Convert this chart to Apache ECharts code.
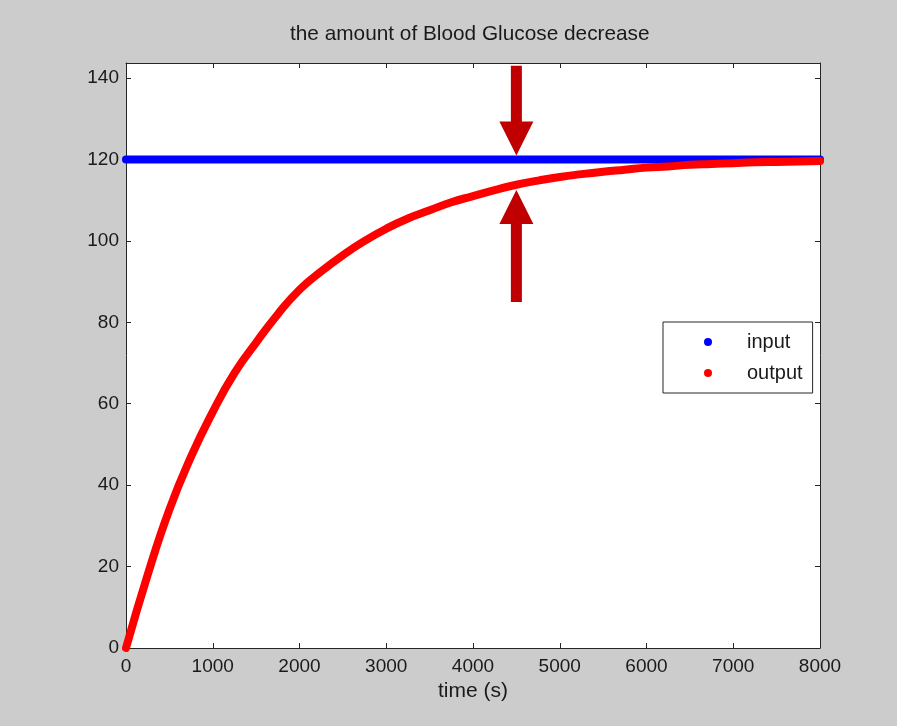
<!DOCTYPE html>
<html>
<head>
<meta charset="utf-8">
<script src="https://cdn.jsdelivr.net/npm/echarts@6/dist/echarts.min.js"></script>
<style>
  html, body { margin: 0; padding: 0; background: #cccccc; }
  #chart { width: 897px; height: 726px; }
</style>
</head>
<body>
<div id="chart"></div>
<script>
// time axis (s) and readings taken off the curve
var times = [0, 250, 500, 750, 1000, 1250, 1500, 1750, 2000, 2250, 2500, 2750, 3000,
             3250, 3500, 3750, 4000, 4250, 4500, 4750, 5000, 5250, 5500, 5750, 6000,
             6250, 6500, 6750, 7000, 7250, 7500, 7750, 8000];
var outputValues = [0, 18, 34, 47, 58, 67.5, 75, 82, 88, 92.5, 96.5, 100, 103,
                    105.5, 107.5, 109.5, 111, 112.5, 113.8, 114.8, 115.7, 116.4, 117, 117.5, 118,
                    118.3, 118.7, 118.9, 119.1, 119.3, 119.4, 119.5, 119.6];
var inputTimes = [0, 8000];
var inputValues = [120, 120];

var xTicks = [0, 1000, 2000, 3000, 4000, 5000, 6000, 7000, 8000];
var yTicks = [0, 20, 40, 60, 80, 100, 120, 140];

// arrows: x position, tail value, tip value
var arrowX = [4500, 4500];
var arrowTail = [143, 85];
var arrowTip = [121, 112.5];

var axisColor = '#262626';
var textColor = '#1a1a1a';
var font = 'Liberation Sans, Arial, sans-serif';

var chart = echarts.init(document.getElementById('chart'));

function renderArrow(params, api) {
    var tail = api.coord([api.value(0), api.value(1)]);
    var tip = api.coord([api.value(0), api.value(2)]);
    var dir = tip[1] > tail[1] ? 1 : -1;
    var headLen = 34, headHalf = 17, shaftHalf = 5.5;
    var x = tip[0];
    var base = tip[1] - dir * headLen;
    return {
        type: 'polygon',
        shape: {
            points: [
                [x - shaftHalf, tail[1]],
                [x + shaftHalf, tail[1]],
                [x + shaftHalf, base],
                [x + headHalf, base],
                [x, tip[1]],
                [x - headHalf, base],
                [x - shaftHalf, base]
            ]
        },
        style: { fill: '#c00000' }
    };
}

var arrowData = arrowX.map(function (x, i) { return [x, arrowTail[i], arrowTip[i]]; });

function axisBase(pos, ticks, showLabel) {
    return {
        type: 'value',
        position: pos,
        axisLine: { show: true, onZero: false, lineStyle: { color: axisColor } },
        axisTick: { show: true, inside: true, length: 5, customValues: ticks, lineStyle: { color: axisColor } },
        axisLabel: {
            show: showLabel,
            customValues: ticks,
            formatter: function (v) { return String(v); },
            fontFamily: font, fontSize: 19, color: textColor
        },
        splitLine: { show: false }
    };
}

var xBottom = axisBase('bottom', xTicks, true);
xBottom.min = 0; xBottom.max = 8000;
xBottom.axisLabel.margin = 9;
xBottom.name = 'time (s)';
xBottom.nameLocation = 'middle';
xBottom.nameGap = 31;
xBottom.nameTextStyle = { fontFamily: font, fontSize: 21, color: textColor };

var xTop = axisBase('top', xTicks, false);
xTop.min = 0; xTop.max = 8000;

var yLeft = axisBase('left', yTicks, true);
yLeft.min = 0; yLeft.max = 143.7;
yLeft.axisLabel.margin = 7;

var yRight = axisBase('right', yTicks, false);
yRight.min = 0; yRight.max = 143.7;

chart.setOption({
    backgroundColor: '#cccccc',
    animation: false,
    title: {
        text: 'the amount of Blood Glucose decrease',
        left: 290,
        top: 24,
        padding: 0,
        textStyle: { fontFamily: font, fontSize: 20.8, fontWeight: 'normal', color: textColor }
    },
    grid: { left: 126, right: 77, top: 63, bottom: 78, show: true, backgroundColor: '#ffffff', borderWidth: 0 },
    legend: {
        data: ['input', 'output'],
        orient: 'vertical',
        left: 663,
        top: 322,
        icon: 'circle',
        itemWidth: 8,
        itemHeight: 8,
        itemGap: 11,
        padding: [10, 10, 10, 41],
        borderColor: axisColor,
        borderWidth: 1,
        borderRadius: 0,
        backgroundColor: '#ffffff',
        textStyle: { fontFamily: font, fontSize: 20, color: textColor, lineHeight: 20, padding: [0, 0, 0, 30] }
    },
    xAxis: [xBottom, xTop],
    yAxis: [yLeft, yRight],
    series: [
        {
            name: 'input',
            type: 'line',
            color: '#0000ff',
            data: inputTimes.map(function (t, i) { return [t, inputValues[i]]; }),
            symbol: 'none',
            clip: false,
            lineStyle: { width: 8, color: '#0000ff', cap: 'round' }
        },
        {
            name: 'output',
            type: 'line',
            color: '#ff0000',
            smooth: true,
            data: times.map(function (t, i) { return [t, outputValues[i]]; }),
            symbol: 'none',
            clip: false,
            lineStyle: { width: 8, color: '#ff0000', cap: 'round' }
        },
        {
            name: 'arrows',
            type: 'custom',
            renderItem: renderArrow,
            data: arrowData,
            clip: false,
            z: 5
        }
    ]
});
</script>
</body>
</html>
